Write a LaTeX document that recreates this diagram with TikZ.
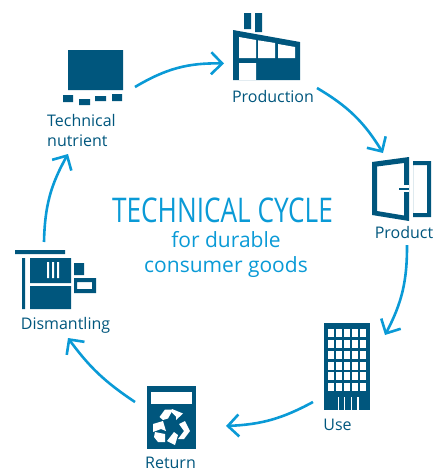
\documentclass[tikz,border=0pt]{standalone}
\usepackage{fontspec}
\setmainfont{Open Sans}
\newfontfamily\titlefont[FakeStretch=0.77]{Open Sans}
\usetikzlibrary{arrows.meta}
\definecolor{dk}{HTML}{00567D}
\definecolor{bl}{HTML}{0A9AD6}
\tikzset{
  lbl/.style={text=dk,font=\fontsize{16}{19}\selectfont,inner sep=0pt,anchor=base},
  flow/.style={draw=bl,line width=2.6pt,-{Straight Barb[length=11pt,width=22pt,line width=2.6pt]}},
  ttl/.style={text=bl,inner sep=0pt,anchor=base},
  ic/.style={fill=dk,draw=none},
  wh/.style={fill=white,draw=none}
}
\begin{document}
\begin{tikzpicture}[x=1pt,y=-1pt]
\useasboundingbox (0,0) rectangle (436,472);
% Production
\fill[ic] (244,13) rectangle (251,29) (255,13) rectangle (262,32);
\fill[ic] (233,30) -- (300,42) -- (300,80) -- (233,80) -- cycle;
\fill[wh] (239,37) -- (256,40) -- (256,58) -- (239,58) -- cycle
          (258,40.3) -- (275,43) -- (275,58) -- (258,58) -- cycle
          (278,44) -- (295,47) -- (295,58) -- (278,58) -- cycle
          (239,63) rectangle (256,80);
% Product
\fill[ic,even odd rule] (413,161) rectangle (431,217) (413,165) rectangle (427,213);
\fill[wh] (409,165) rectangle (413,213);
\fill[ic,even odd rule] (372,162) -- (409,157) -- (409,221) -- (372,215) -- cycle
   (377,166.5) -- (404,163) -- (404,215.5) -- (377,211) -- cycle;
\fill[wh] (404,185) rectangle (409,192);
\fill[ic] (399,188) rectangle (409,190);
% Use
\fill[ic] (324,323) rectangle (370,410);
\foreach \c in {0,...,4}\foreach \r in {0,...,5}{
  \fill[wh] ({328.3+8*\c},{329+10.85*\r}) rectangle ++(6,8);}
\foreach \c in {337.5,343.5,350.7,357.3}{\fill[wh] (\c,397) rectangle ++(1.3,13);}
% Return
\fill[ic] (147,386) rectangle (196,449);
\fill[wh] (151,392) rectangle (192,404);
\fill[wh] (159.5,417) -- (165,409.5) -- (173,409.5) -- (168,418.5) -- (163,420) -- cycle;
\fill[wh] (171,411.5) -- (172,409) -- (183,413.5) -- (176,420) -- (176,416.5) -- cycle;
\fill[wh] (179,424) -- (185,421) -- (190,431) -- (184,439) -- (178,439) -- (184,431) -- cycle;
\fill[wh] (178,435) -- (175,445) -- (167,441) -- (174,432) -- cycle;
\fill[wh] (155,432) -- (165,434) -- (165,442) -- (158,442) -- (154,437) -- cycle;
\fill[wh] (153,424) -- (163,421) -- (166,431) -- (161,429) -- (153,432) -- cycle;
% Dismantling
\fill[ic] (15,250) rectangle (65,254) (22,258) rectangle (25,309)
  (30,258) rectangle (71,283) (30,286) rectangle (71,309)
  (74,263) rectangle (84,275);
\fill[wh] (47,262) rectangle (49,278) (52,262) rectangle (54,278) (57,262) rectangle (59,278);
\fill[ic,even odd rule] (74,278) rectangle (96,293) (77,282) rectangle (92,289);
% Technical nutrient
\fill[ic] (68,50) rectangle (123,90)
  (63,95) rectangle (73,102) (79,99) rectangle (90,105)
  (95,96) rectangle (106,101) (112,94) rectangle (122,101);
% Labels
\node[lbl] (lprod) at (273,102.7) {Production};
\node[lbl] (lpct) at (404,238.7) {Product};
\node[lbl] (luse) at (337.5,430.7) {Use};
\node[lbl] (lret) at (170.5,468.5) {Return};
\node[lbl] (ldis) at (65.5,329) {Dismantling};
\node[lbl,anchor=base west] (ltn1) at (47,126.7) {Technical};
\node[lbl,anchor=base west] (ltn2) at (47,146) {nutrient};
% Title
\node[ttl,font=\titlefont\fontsize{34}{40}\selectfont] (t1) at (222.5,222) {TECHNICAL CYCLE};
\node[ttl,font=\fontsize{21}{25}\selectfont] (t2) at (226,247) {for durable};
\node[ttl,font=\fontsize{21}{25}\selectfont] (t3) at (226,272) {consumer goods};
% Arrow ends
\coordinate (a1) at (135,87); \coordinate (b1) at (224,63.5);
\coordinate (a2) at (317,88); \coordinate (b2) at (383,153);
\coordinate (a3) at (407,245); \coordinate (b3) at (385,335);
\coordinate (a4) at (313,402); \coordinate (b4) at (226,426);
\coordinate (a5) at (135,402); \coordinate (b5) at (68,338);
\coordinate (a6) at (44,242); \coordinate (b6) at (68,154);
\draw[flow] (a1) to[bend left=16] (b1);
\draw[flow] (a2) to[bend left=14] (b2);
\draw[flow] (a3) to[bend left=14] (b3);
\draw[flow] (a4) to[bend left=13] (b4);
\draw[flow] (a5) to[bend left=10] (b5);
\draw[flow] (a6) to[bend left=14] (b6);
\end{tikzpicture}
\end{document}
